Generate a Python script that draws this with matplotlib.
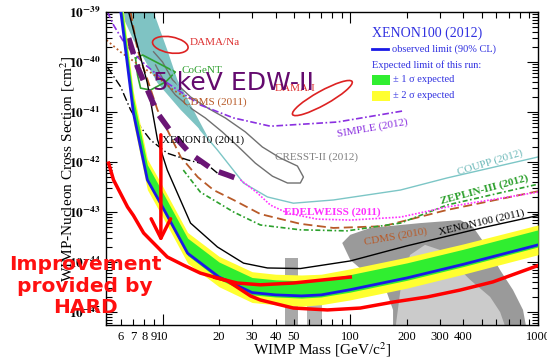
import math
import matplotlib
matplotlib.use("Agg")
import matplotlib.pyplot as plt
from matplotlib.patches import Ellipse, Rectangle
from matplotlib.transforms import IdentityTransform
from matplotlib.ticker import FixedLocator, FuncFormatter, LogLocator, NullFormatter

plt.rcParams['font.family'] = ['Liberation Serif', 'DejaVu Serif']
plt.rcParams['mathtext.fontset'] = 'stix'

# XENON100 (2012) observed limit and expected bands
mass_x100 = [6.0, 7.0, 8.3, 10.0, 13.6, 20, 30, 40, 55, 70, 100, 200, 400, 1000]
x100_obs = [1.0e-39, 9.5e-42, 4.4e-43, 1.26e-43, 1.5e-44, 5.0e-45, 2.45e-45, 2.2e-45,
            2.1e-45, 2.2e-45, 2.8e-45, 4.8e-45, 9.0e-45, 2.2e-44]
band2_hi = [2.6e-39, 2.5e-41, 1.15e-42, 3.3e-43, 3.9e-44, 1.3e-44, 6.4e-45, 5.7e-45,
            5.5e-45, 5.7e-45, 7.3e-45, 1.25e-44, 2.3e-44, 5.5e-44]
band1_hi = [2.0e-39, 1.9e-41, 8.8e-43, 2.5e-43, 3.0e-44, 1.0e-44, 4.9e-45, 4.4e-45,
            4.2e-45, 4.4e-45, 5.6e-45, 9.6e-45, 1.8e-44, 4.4e-44]
band1_lo = [9.0e-40, 8.6e-42, 4.0e-43, 1.13e-43, 1.35e-44, 4.5e-45, 2.2e-45, 2.0e-45,
            1.9e-45, 2.0e-45, 2.5e-45, 4.3e-45, 8.1e-45, 2.0e-44]
band2_lo = [6.3e-40, 6.0e-42, 2.8e-43, 8.0e-44, 9.5e-45, 3.2e-45, 1.55e-45, 1.4e-45,
            1.3e-45, 1.4e-45, 1.75e-45, 3.0e-45, 5.7e-45, 1.4e-44]

# HARD projection (red)
mass_hard = [5.16, 5.48, 6.51, 7.0, 7.93, 8.63, 10.6, 12.9, 15.9, 22.2, 29.4, 33.2,
             49.8, 75.5, 113, 169, 257, 385, 575, 1000]
sig_hard = [9.5e-43, 4.4e-43, 1.26e-43, 8.5e-44, 3.8e-44, 2.75e-44, 1.26e-44, 8.7e-45,
            6.0e-45, 4.2e-45, 2.1e-45, 1.74e-45, 1.2e-45, 1.1e-45, 1.2e-45, 1.58e-45,
            2.0e-45, 2.75e-45, 4.0e-45, 8.5e-45]
mass_hard2 = [19, 25, 33.2, 49.8, 100]
sig_hard2 = [4.9e-45, 3.8e-45, 3.5e-45, 3.8e-45, 5.0e-45]

# XENON100 (2011)
mass_x11 = [6.6, 8.3, 9.4, 10.6, 14.1, 19.6, 27, 36.2, 54.2, 100, 200, 500, 1000]
sig_x11 = [1e-39, 3.8e-41, 2.8e-42, 6.9e-43, 6.0e-44, 2.0e-44, 9.5e-45, 7.6e-45,
           7.4e-45, 1.05e-44, 2.1e-44, 4.8e-44, 8.5e-44]

# XENON10 (2011)
mass_x10 = [5.09, 5.98, 6.76, 7.64, 8.63, 10.6, 13.6, 17.4, 19.6]
sig_x10 = [7.9e-41, 3.2e-41, 1.1e-41, 5.0e-42, 2.75e-42, 1.5e-42, 1.1e-42, 8.7e-43, 6.0e-43]

# CDMS (2011 low threshold + 2010)
mass_cdms = [6.76, 7.36, 8.32, 9.4, 10.6, 12.5, 15.4, 18.7, 23.9, 33.2, 54.2, 81.3,
             150, 328, 1000]
sig_cdms = [1e-39, 1.74e-40, 4.4e-41, 1.1e-41, 4.4e-42, 1.26e-42, 5.0e-43, 2.75e-43,
            1.74e-43, 9.1e-44, 5.8e-44, 4.8e-44, 5.2e-44, 1.1e-43, 2.6e-43]
mass_cdms_dot = [5.03, 5.98, 7.64, 9.4, 11.4, 13.2]
sig_cdms_dot = [2.75e-40, 1.58e-40, 8.3e-41, 5.0e-41, 2.75e-41, 2.0e-41]

# SIMPLE (2012)
mass_simple = [5.09, 5.48, 6.35, 8.12, 10.6, 15.9, 23.9, 37.5, 85.3, 191]
sig_simple = [1e-39, 5.5e-40, 2.2e-40, 8.7e-41, 3.8e-41, 1.38e-41, 7.6e-42, 5.2e-42,
              6.3e-42, 1.05e-41]

# EDELWEISS 5 keV (purple dashes) and EDELWEISS (2011)
mass_edw5 = [6.6, 7.36, 8.32, 9.4, 11.4, 14.1, 18.7, 22.2, 26]
sig_edw5 = [3.0e-40, 7.9e-41, 2.75e-41, 9.5e-42, 3.5e-42, 1.45e-42, 6.9e-43, 5.5e-43, 4.4e-43]
mass_edw = [26, 32, 37.5, 46.3, 66.7, 100, 185, 328, 1000]
sig_edw = [4.4e-43, 2.4e-43, 1.38e-43, 9.5e-44, 7.2e-44, 6.9e-44, 7.9e-44, 1.26e-43, 2.5e-43]

# ZEPLIN-III (2012)
mass_zep = [12.9, 15.9, 23.9, 33.2, 54.2, 96.3, 185, 328, 1000]
sig_zep = [6.9e-43, 2.5e-43, 1.0e-43, 5.5e-44, 4.4e-44, 4.2e-44, 6.0e-44, 1.38e-43, 3.6e-43]

# COUPP (2012)
mass_coupp = [8.63, 11.7, 15.9, 19.6, 27, 36.2, 49.8, 81.3, 185, 328, 1000]
sig_coupp = [1e-39, 4.4e-41, 4.4e-42, 1.74e-42, 3.8e-43, 2.0e-43, 1.5e-43, 1.74e-43,
             2.75e-43, 4.8e-43, 1.26e-42]

# DAMA/I (teal) region outline
mass_teal = [5.98, 7.0, 9.4, 12.5, 16.5, 17.4, 14.6, 12.0, 10.6, 8.96]
sig_teal = [1e-39, 2.75e-40, 3.8e-41, 1.1e-41, 3.8e-42, 3.2e-42, 1.1e-41, 4.4e-41,
            1.74e-40, 1e-39]

# CRESST-II (2012) contour
mass_cresst = [8.96, 10.0, 11.3, 14.1, 17.4, 21.6, 27.6, 34.0, 42.4, 52.3, 56.3, 54.2,
               46.3, 38.5, 31.2, 25.4, 20.8, 16.9, 14.1, 11.7, 10.1, 9.18]
sig_cresst = [1.6e-40, 1e-40, 4.4e-41, 2.0e-41, 1.2e-41, 7.6e-42, 4.0e-42, 2.0e-42,
              1.2e-42, 8.3e-43, 5.0e-43, 3.8e-43, 3.8e-43, 5.2e-43, 9.5e-43, 2.0e-42,
              4.0e-42, 7.6e-42, 1.2e-41, 2.2e-41, 4.4e-41, 8.7e-41]

# CoGeNT contour
mass_cogent = [7.18, 7.83, 11.7, 10.4, 8.63, 7.64, 7.36, 7.18]
sig_cogent = [1.2e-40, 1.38e-40, 6.3e-41, 4.0e-41, 2.75e-41, 3.0e-41, 5.5e-41, 1.2e-40]

# theory regions (grey)
mass_grey_dark = [90.6, 100, 128, 236, 385, 451, 535, 628, 736, 832, 874, 169, 169, 157, 128, 100]
sig_grey_dark = [2.4e-44, 3.5e-44, 4.8e-44, 6.0e-44, 6.9e-44, 5.0e-44, 2.0e-44, 6.9e-45,
                 2.75e-45, 1.1e-45, 4e-46, 4e-46, 1.1e-45, 2.4e-45, 5.0e-45, 1.1e-44]
mass_grey_light = [173, 185, 208, 250, 301, 362, 435, 556, 628, 684]
sig_grey_light = [4e-46, 2.75e-45, 1.38e-44, 2.2e-44, 1.74e-44, 8.7e-45, 4.4e-45, 2.0e-45,
                  1.0e-45, 4e-46]
mass_col1 = [45.1, 45.1, 52.9, 52.9]
sig_col1 = [4e-46, 1.2e-44, 1.2e-44, 4e-46]
mass_col2 = [59, 59, 71, 71]
sig_col2 = [4e-46, 3.5e-45, 3.5e-45, 4e-46]

# DAMA ellipses: centre (mass, sigma), size in pixels, angle
dama_na = (11.0, 2.2e-40, 36, 16, -10)
dama_i = (71, 1.9e-41, 68, 14, 29)

x_labelled = [6, 7, 8, 9, 20, 30, 40, 50, 200, 300, 400]
y_decades = [1e-45, 1e-44, 1e-43, 1e-42, 1e-41, 1e-40, 1e-39]

fig = plt.figure(figsize=(5.47, 3.63), dpi=100)
ax = fig.add_axes([0.1938, 0.1047, 0.7898, 0.8623])
ax.set_xscale('log')
ax.set_yscale('log')
ax.set_xlim(5.0, 1000)
ax.set_ylim(5.5e-46, 1e-39)

# grey regions
ax.fill(mass_grey_dark, sig_grey_dark, color='#9a9a9a', lw=0, zorder=1)
ax.fill(mass_grey_light, sig_grey_light, color='#cbcbcb', lw=0, zorder=1.1)
ax.fill(mass_col1, sig_col1, color='#a8a8a8', lw=0, zorder=1)
ax.fill(mass_col2, sig_col2, color='#b4b4b4', lw=0, zorder=1)

ax.fill(mass_teal, sig_teal, color='#7fc3c3', lw=0, zorder=1.2)

ax.plot(mass_cresst, sig_cresst, color='#707070', lw=1.0, zorder=2)
ax.plot(mass_cogent, sig_cogent, color='#30a030', lw=1.2, zorder=2)
ax.plot(mass_coupp, sig_coupp, color='#7cc6c6', lw=1.0, zorder=2)
ax.plot(mass_simple, sig_simple, color='#8a30e0', lw=1.2, ls=(0, (4, 1.5, 1, 1.5)), zorder=2)
ax.plot(mass_cdms, sig_cdms, color='#b85a28', lw=1.3, ls=(0, (5, 2.5)), zorder=2)
ax.plot(mass_cdms_dot, sig_cdms_dot, color='#b85a28', lw=1.3, ls=(0, (1, 1.5)), zorder=2)
ax.plot(mass_zep, sig_zep, color='#2ca02c', lw=1.2, ls=(0, (3, 1.5, 1, 1.5)), zorder=2)
ax.plot(mass_edw, sig_edw, color='#ff30ff', lw=1.2, ls=(0, (1, 1)), zorder=2)
ax.plot(mass_x10, sig_x10, color='black', lw=1.0, ls=(0, (6, 2, 1, 2)), zorder=2)
ax.plot(mass_x11, sig_x11, color='black', lw=1.0, zorder=2)
ax.plot(mass_edw5, sig_edw5, color='#6a1475', lw=4, ls=(0, (3, 2)), zorder=2.5)

for m, s, w, h, ang in [dama_na, dama_i]:
    cx, cy = ax.transData.transform((m, s))
    ax.add_patch(Ellipse((cx, cy), w, h, angle=ang, transform=IdentityTransform(),
                         fill=False, ec='#dd2222', lw=1.2, zorder=2))

# XENON100 (2012)
ax.fill_between(mass_x100, band2_lo, band2_hi, color='#ffff30', lw=0, zorder=3)
ax.fill_between(mass_x100, band1_lo, band1_hi, color='#30ee30', lw=0, zorder=3.1)
ax.plot(mass_x100, x100_obs, color='#1a1ae6', lw=2, zorder=4)

# HARD
ax.plot(mass_hard, sig_hard, color='#ff0000', lw=2.5, zorder=5)
ax.plot(mass_hard2, sig_hard2, color='#ff0000', lw=2.5, zorder=5)
ax.annotate('', xy=(9.8, 2.5e-44), xytext=(9.8, 3.5e-42), zorder=5,
            arrowprops=dict(arrowstyle='->,head_length=0.7,head_width=0.35',
                            color='#ff0000', lw=2.5, mutation_scale=20,
                            shrinkA=0, shrinkB=0))

# curve labels
lab = dict(transform=ax.transAxes, fontsize=8, zorder=6)
ax.text(0.194, 0.901, 'DAMA/Na', color='#dd3030', ha='left', va='center', **lab)
ax.text(0.174, 0.812, 'CoGeNT', color='#30a030', ha='left', va='center', **lab)
ax.text(0.391, 0.757, 'DAMA/I', color='#dd3030', ha='left', va='center', **lab)
ax.text(0.178, 0.712, 'CDMS (2011)', color='#b85a28', ha='left', va='center', **lab)
ax.text(0.130, 0.591, 'XENON10 (2011)', color='black', ha='left', va='center', **lab)
ax.text(0.391, 0.537, 'CRESST-II (2012)', color='#808080', ha='left', va='center', **lab)
ax.text(0.616, 0.629, 'SIMPLE (2012)', color='#8a30e0', ha='center', va='center',
        rotation=10, rotation_mode='anchor', **lab)
ax.text(0.889, 0.518, 'COUPP (2012)', color='#6ab8b8', ha='center', va='center',
        rotation=17, rotation_mode='anchor', **lab)
ax.text(0.877, 0.431, 'ZEPLIN-III (2012)', color='#2ca02c', ha='center', va='center',
        rotation=15, rotation_mode='anchor', fontweight='bold', **lab)
ax.text(0.523, 0.361, 'EDELWEISS (2011)', color='#ff30ff', ha='center', va='center',
        fontweight='bold', **lab)
ax.text(0.671, 0.281, 'CDMS (2010)', color='#b85a28', ha='center', va='center',
        rotation=10, rotation_mode='anchor', **lab)
ax.text(0.870, 0.329, 'XENON100 (2011)', color='black', ha='center', va='center',
        rotation=13, rotation_mode='anchor', **lab)

ax.text(0.109, 0.773, '5 keV EDW-II', color='#640a6e', fontsize=18, ha='left',
        va='center', family=['DejaVu Sans'], transform=ax.transAxes, zorder=7)

# legend
blue_txt = '#3030e0'
ax.text(0.616, 0.933, 'XENON100 (2012)', color=blue_txt, fontsize=10, ha='left',
        va='center', transform=ax.transAxes, zorder=6)
ax.plot([0.616, 0.653], [0.882, 0.882], color='#1a1ae6', lw=2, transform=ax.transAxes, zorder=6)
ax.text(0.662, 0.882, 'observed limit (90% CL)', color=blue_txt, fontsize=7.5, ha='left',
        va='center', transform=ax.transAxes, zorder=6)
ax.text(0.616, 0.831, 'Expected limit of this run:', color=blue_txt, fontsize=7.5, ha='left',
        va='center', transform=ax.transAxes, zorder=6)
ax.add_patch(Rectangle((0.616, 0.767), 0.042, 0.032, color='#30ee30', lw=0,
                       transform=ax.transAxes, zorder=6))
ax.text(0.664, 0.783, '± 1 σ expected', color=blue_txt, fontsize=7.5, ha='left',
        va='center', transform=ax.transAxes, zorder=6)
ax.add_patch(Rectangle((0.616, 0.716), 0.042, 0.032, color='#ffff30', lw=0,
                       transform=ax.transAxes, zorder=6))
ax.text(0.664, 0.732, '± 2 σ expected', color=blue_txt, fontsize=7.5, ha='left',
        va='center', transform=ax.transAxes, zorder=6)

# ticks
ax.xaxis.set_major_locator(FixedLocator([10, 100, 1000]))
ax.xaxis.set_major_formatter(FuncFormatter(lambda v, p: '%d' % v))
ax.xaxis.set_minor_locator(LogLocator(base=10, subs=range(2, 10)))
ax.xaxis.set_minor_formatter(FuncFormatter(
    lambda v, p: '%d' % round(v) if round(v) in x_labelled else ''))
ax.yaxis.set_major_locator(FixedLocator(y_decades))
ax.yaxis.set_major_formatter(FuncFormatter(
    lambda v, p: r'$\mathbf{10^{%d}}$' % round(math.log10(v))))
ax.yaxis.set_minor_locator(LogLocator(base=10, subs=range(2, 10)))
ax.yaxis.set_minor_formatter(NullFormatter())
ax.tick_params(which='both', direction='in', top=True, right=True, width=0.8)
ax.tick_params(which='major', length=8)
ax.tick_params(which='minor', length=4)
ax.tick_params(axis='x', which='both', labelsize=9, pad=4)
ax.tick_params(axis='y', which='both', labelsize=9.5, pad=4)
for sp in ax.spines.values():
    sp.set_linewidth(1.0)

ax.set_xlabel('WIMP Mass [GeV/c$^2$]', fontsize=11, va='center')
ax.xaxis.set_label_coords(0.5, -0.08)
ax.set_ylabel('WIMP-Nucleon Cross Section [cm$^2$]', fontsize=11, va='center')
ax.yaxis.set_label_coords(-0.088, 0.5)

fig.text(85 / 547, 1 - 286 / 363, 'Improvement\nprovided by\nHARD', color='#ff1010',
         fontsize=14.5, fontweight='bold', family=['DejaVu Sans'], ha='center',
         va='center', linespacing=1.15, zorder=10)

fig.savefig('out.png', dpi=100)
